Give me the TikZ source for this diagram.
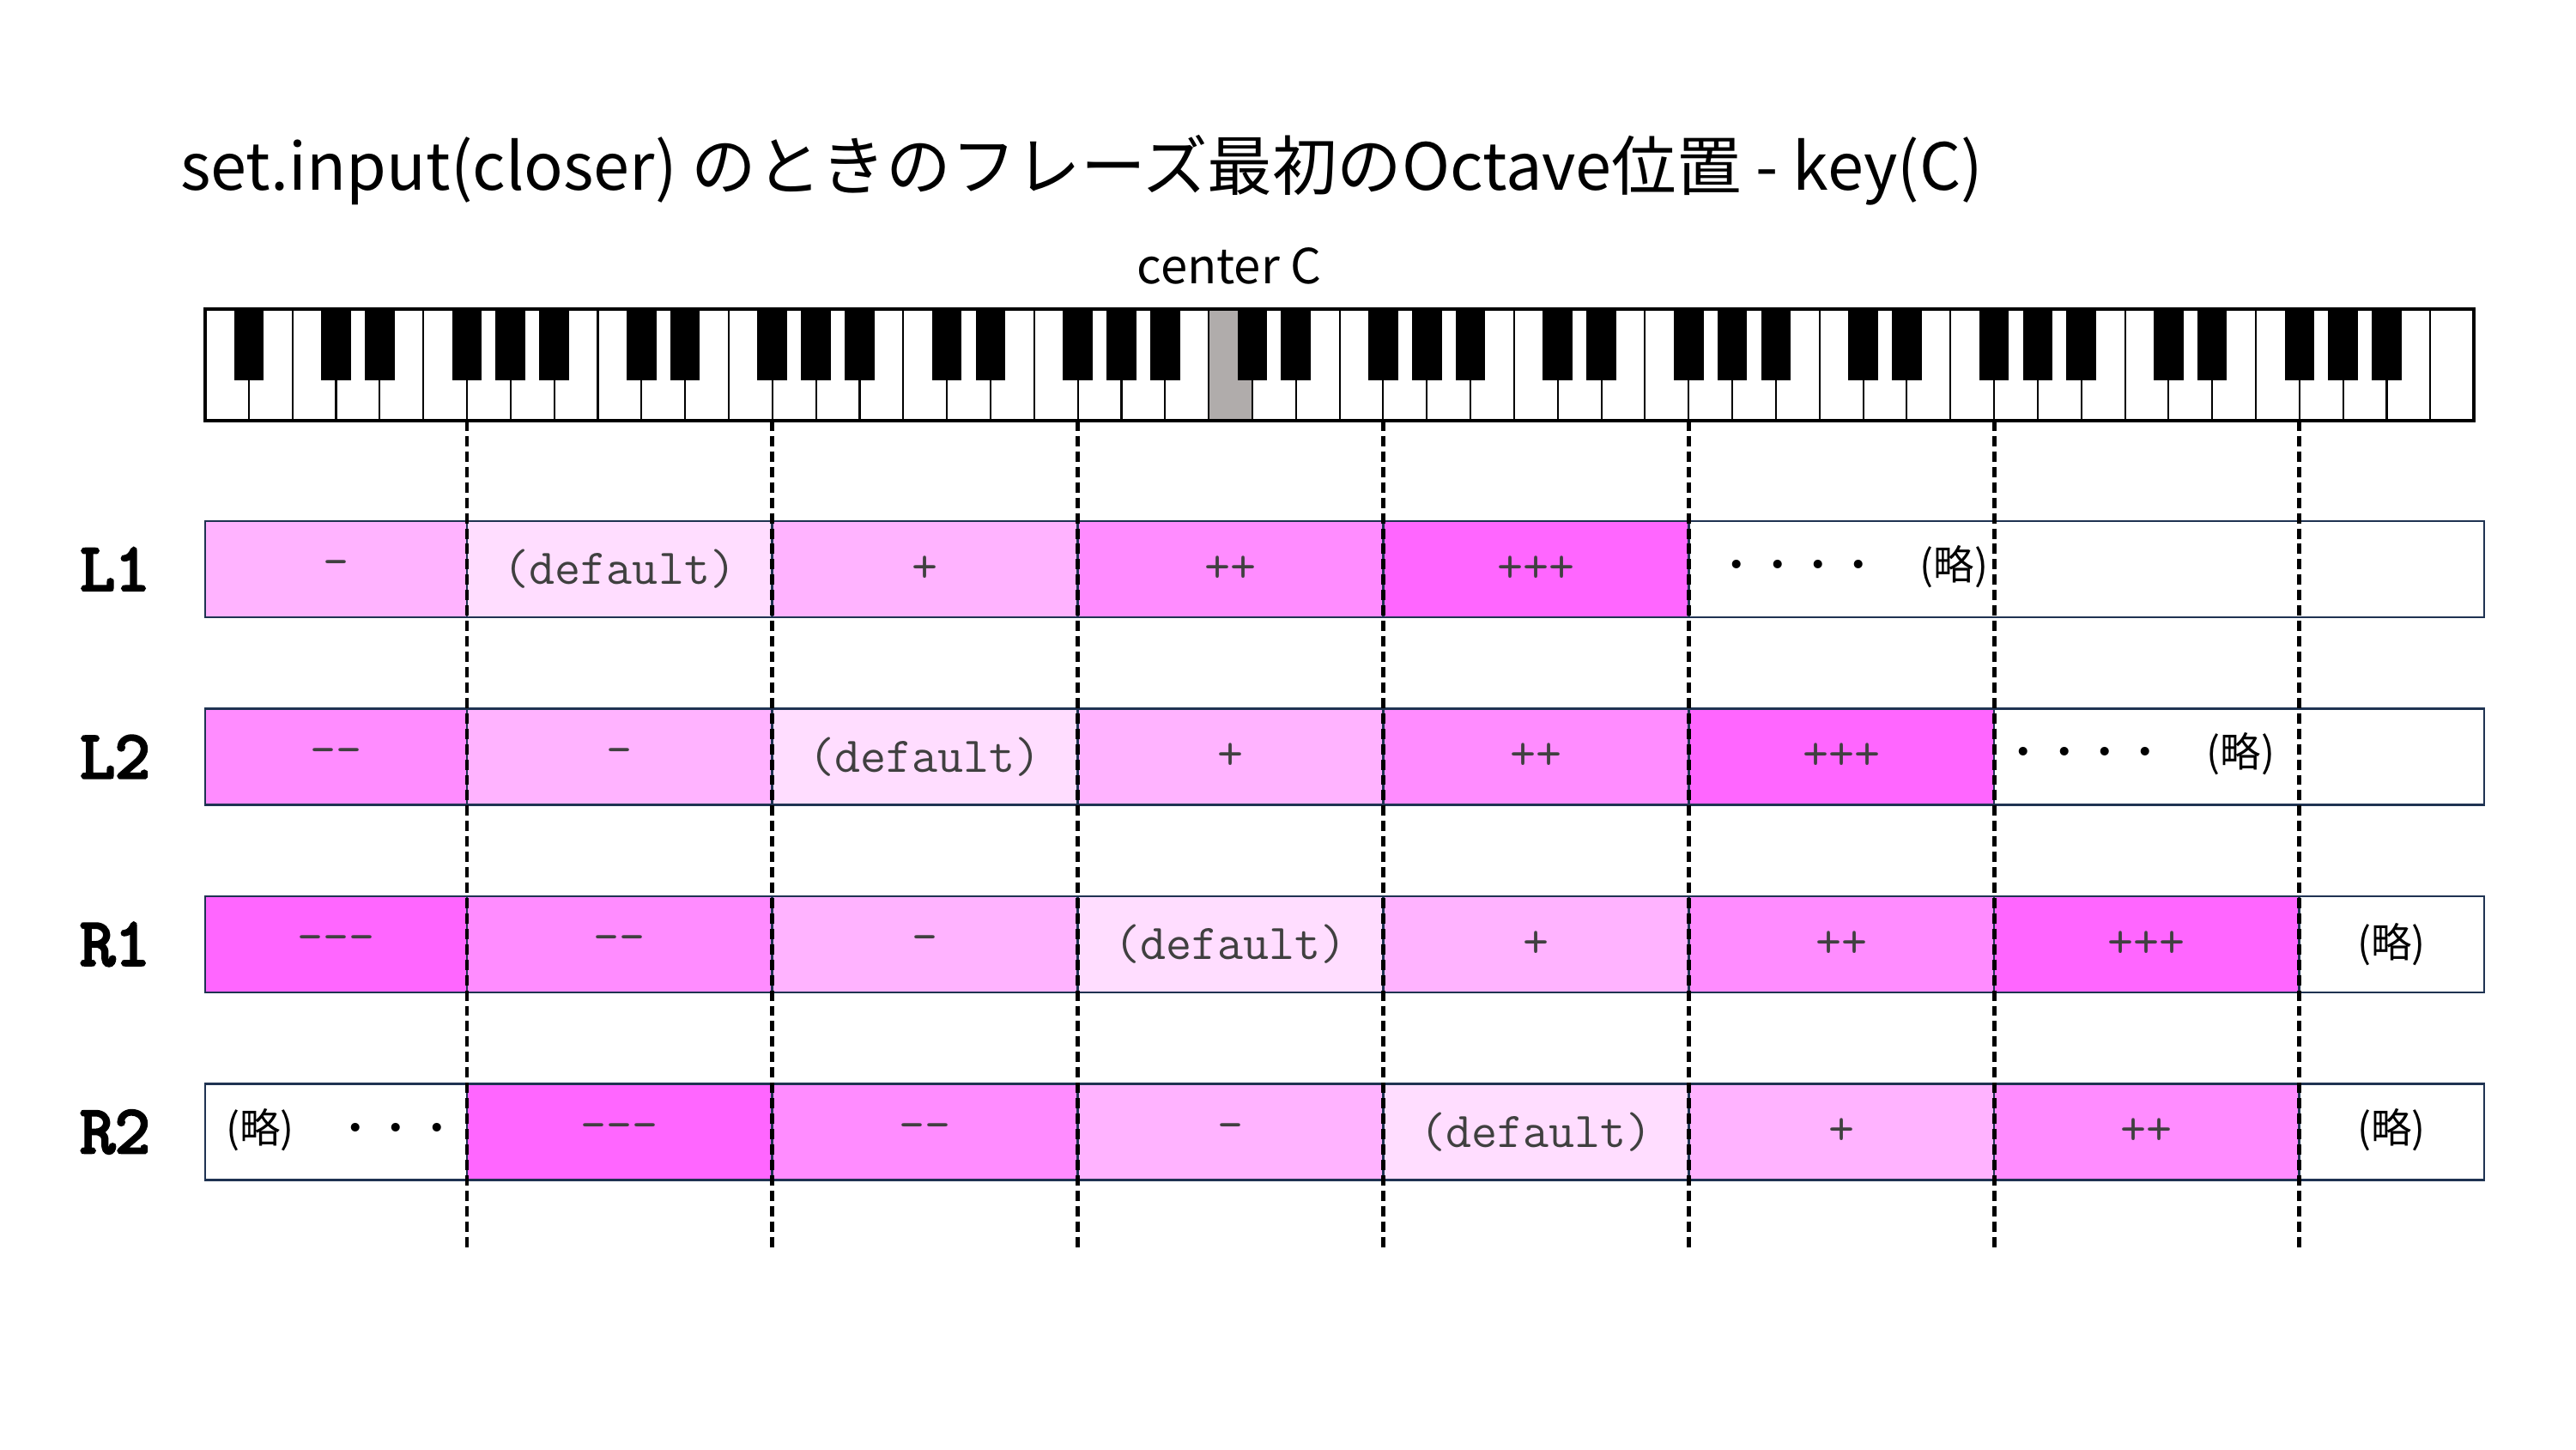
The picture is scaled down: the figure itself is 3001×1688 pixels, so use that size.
\documentclass[tikz,border=0pt]{standalone}
\usepackage{fontspec}
\setmainfont{Noto Sans CJK JP}
\newfontfamily\monofont{Latin Modern Mono}
\newfontfamily\labfont{Latin Modern Mono}[AutoFakeBold=4]

\definecolor{pkzero}{HTML}{FFDDFF}
\definecolor{pkone}{HTML}{FFB3FF}
\definecolor{pktwo}{HTML}{FF8CFF}
\definecolor{pkthree}{HTML}{FF66FF}
\definecolor{rowline}{HTML}{1F3352}
\definecolor{celltxt}{HTML}{404040}
\definecolor{middlec}{HTML}{B0ACAB}

\tikzset{
  whitekey/.style={draw=black,line width=0.6pt},
  blackkey/.style={fill=black},
  cellbox/.style={draw=rowline,line width=0.8pt},
  celltext/.style={font=\monofont\fontsize{16.6}{18}\selectfont,text=celltxt},
  rowlabel/.style={font=\labfont\bfseries\fontsize{22.5}{24}\selectfont},
  omitted/.style={font=\fontsize{13.5}{15}\selectfont},
  octline/.style={dash pattern=on 3.4pt off 1.7pt,line width=1.4pt}
}

\begin{document}
\begin{tikzpicture}
  \begin{scope}[x=0.01cm,y=-0.01cm]
    \useasboundingbox (0,0) rectangle (3001,1688);
    % title and keyboard caption
    \node[anchor=west,font=\fontsize{21.5}{25}\selectfont] (title) at (198,198)
      {set.input(closer) のときのフレーズ最初のOctave位置 - key(C)};
    \node[font=\fontsize{16}{18}\selectfont] (centerc) at (1432,310) {center C};

    % keyboard: 52 white keys, A0 to C8
    \foreach \i in {0,...,51}
      \draw[whitekey,fill=white] (239+\i*50.83,360) rectangle (289.83+\i*50.83,490);
    \draw[whitekey,fill=middlec] (239+23*50.83,360) rectangle (289.83+23*50.83,490);
    \foreach \i in {0,...,50} {
      \pgfmathtruncatemacro{\keypos}{mod(\i+5,7)}
      \ifnum\keypos=2 \else\ifnum\keypos=6 \else
        \fill[blackkey] (272.5+\i*50.83,360) rectangle (307.1+\i*50.83,443);
      \fi\fi
    }
    \draw[line width=1pt] (239,360) rectangle (2882,490);

    % L1
    \node[rowlabel] (labL1) at (134,663) {L1};
    \foreach \xa/\xb/\fc/\txt [count=\c] in {239/544.0/pkone/{-},
        544.0/899.8/pkzero/{(default)}, 899.8/1255.6/pkone/{+},
        1255.6/1611.4/pktwo/{++}, 1611.4/1967.2/pkthree/{+++}} {
      \draw[cellbox,fill=\fc] (\xa,607) rectangle (\xb,719);
      \node[celltext] (L1c\c) at ({(\xa+\xb)/2},663) {\txt};
    }
    \draw[cellbox,fill=white] (1967.2,607) rectangle (2894,719);
    \node[omitted] (L1rest) at (2158,660) {・・・・　(略)};

    % L2
    \node[rowlabel] (labL2) at (134,881.5) {L2};
    \foreach \xa/\xb/\fc/\txt [count=\c] in {239/544.0/pktwo/{-{}-},
        544.0/899.8/pkone/{-}, 899.8/1255.6/pkzero/{(default)},
        1255.6/1611.4/pkone/{+}, 1611.4/1967.2/pktwo/{++},
        1967.2/2323.0/pkthree/{+++}} {
      \draw[cellbox,fill=\fc] (\xa,825.5) rectangle (\xb,937.5);
      \node[celltext] (L2c\c) at ({(\xa+\xb)/2},881.5) {\txt};
    }
    \draw[cellbox,fill=white] (2323.0,825.5) rectangle (2894,937.5);
    \node[omitted] (L2rest) at (2492,878.5) {・・・・　(略)};

    % R1
    \node[rowlabel] (labR1) at (134,1100) {R1};
    \foreach \xa/\xb/\fc/\txt [count=\c] in {239/544.0/pkthree/{-{}-{}-},
        544.0/899.8/pktwo/{-{}-}, 899.8/1255.6/pkone/{-},
        1255.6/1611.4/pkzero/{(default)}, 1611.4/1967.2/pkone/{+},
        1967.2/2323.0/pktwo/{++}, 2323.0/2678.8/pkthree/{+++}} {
      \draw[cellbox,fill=\fc] (\xa,1044) rectangle (\xb,1156);
      \node[celltext] (R1c\c) at ({(\xa+\xb)/2},1100) {\txt};
    }
    \draw[cellbox,fill=white] (2678.8,1044) rectangle (2894,1156);
    \node[omitted] (R1rest) at (2786,1100) {(略)};

    % R2
    \node[rowlabel] (labR2) at (134,1318.5) {R2};
    \draw[cellbox,fill=white] (239,1262.5) rectangle (544.0,1374.5);
    \node[omitted] (R2rest) at (398,1316) {(略)　・・・};
    \foreach \xa/\xb/\fc/\txt [count=\c] in {544.0/899.8/pkthree/{-{}-{}-},
        899.8/1255.6/pktwo/{-{}-}, 1255.6/1611.4/pkone/{-},
        1611.4/1967.2/pkzero/{(default)}, 1967.2/2323.0/pkone/{+},
        2323.0/2678.8/pktwo/{++}} {
      \draw[cellbox,fill=\fc] (\xa,1262.5) rectangle (\xb,1374.5);
      \node[celltext] (R2c\c) at ({(\xa+\xb)/2},1318.5) {\txt};
    }
    \draw[cellbox,fill=white] (2678.8,1262.5) rectangle (2894,1374.5);
    \node[omitted] (R2end) at (2786,1316) {(略)};

    % octave borders (G) through all rows
    \foreach \k in {6,13,...,48}
      \draw[octline] (239+\k*50.83,490) -- (239+\k*50.83,1458);
  \end{scope}
\end{tikzpicture}
\end{document}
